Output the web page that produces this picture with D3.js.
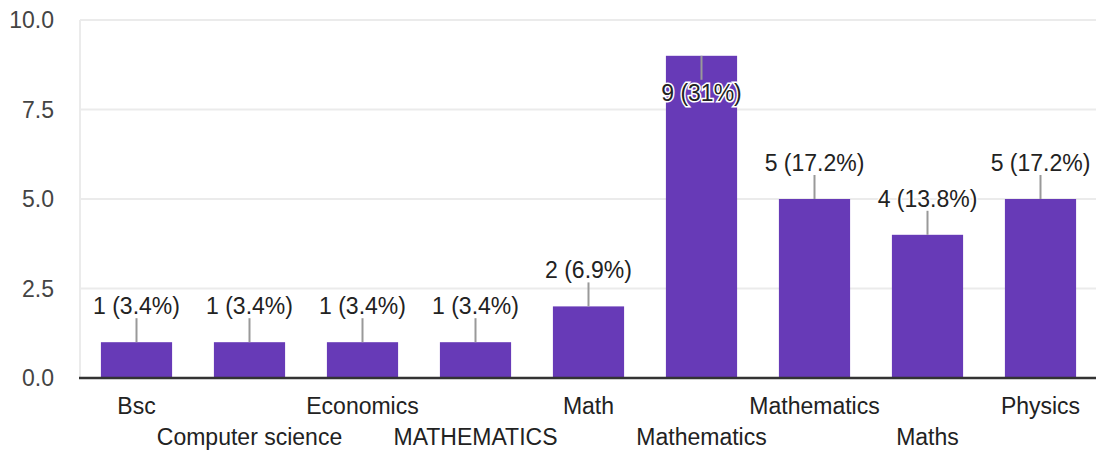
<!DOCTYPE html>
<html>
<head>
<meta charset="utf-8">
<script src="https://cdn.jsdelivr.net/npm/d3@7"></script>
<style>
  body { margin: 0; background: #fff; }
  text { font-family: "Liberation Sans", Arial, sans-serif; }
</style>
</head>
<body>
<div id="chart"></div>
<script>
var categories = ["Bsc", "Computer science", "Economics", "MATHEMATICS", "Math",
                  "Mathematics", "Mathematics ", "Maths", "Physics"];
var counts = [1, 1, 1, 1, 2, 9, 5, 4, 5];
var labels = ["1 (3.4%)", "1 (3.4%)", "1 (3.4%)", "1 (3.4%)", "2 (6.9%)",
              "9 (31%)", "5 (17.2%)", "4 (13.8%)", "5 (17.2%)"];
var yTicks = [0, 2.5, 5, 7.5, 10];

var margin = {top: 20, right: 0, bottom: 74, left: 80},
    width = 1096 - margin.left - margin.right,
    height = 452 - margin.top - margin.bottom;

var x = d3.scaleBand().domain(d3.range(categories.length))
    .range([0, 1017]).paddingInner(0.37).paddingOuter(0.185);
var y = d3.scaleLinear().domain([0, 10]).range([height, 0]);

var svg = d3.select("#chart").append("svg")
    .attr("width", 1096)
    .attr("height", 452)
  .append("g")
    .attr("transform", "translate(" + margin.left + "," + margin.top + ")");

// grid
svg.selectAll(".grid")
    .data(yTicks)
  .enter().append("line")
    .attr("x1", 0).attr("x2", width)
    .attr("y1", function(d) { return y(d); })
    .attr("y2", function(d) { return y(d); })
    .attr("stroke", "#ebebeb")
    .attr("stroke-width", 2);
svg.append("line")
    .attr("x1", 0).attr("x2", 0)
    .attr("y1", y(10)).attr("y2", y(0))
    .attr("stroke", "#ebebeb")
    .attr("stroke-width", 2);

// y labels
var fmt = d3.format(".1f");
svg.selectAll(".ylab")
    .data(yTicks)
  .enter().append("text")
    .attr("x", -26)
    .attr("y", function(d) { return y(d); })
    .attr("dy", "0.36em")
    .attr("text-anchor", "end")
    .attr("font-size", 23)
    .attr("fill", "#444")
    .text(function(d) { return fmt(d); });

// bars
svg.selectAll(".bar")
    .data(counts)
  .enter().append("rect")
    .attr("x", function(d, i) { return x(i); })
    .attr("y", function(d) { return y(d); })
    .attr("width", x.bandwidth())
    .attr("height", function(d) { return y(0) - y(d); })
    .attr("fill", "#673ab7");

// baseline
svg.append("line")
    .attr("x1", -1).attr("x2", width)
    .attr("y1", y(0)).attr("y2", y(0))
    .attr("stroke", "#333")
    .attr("stroke-width", 2.5);

// value labels with leader lines
var lead = 24;
counts.forEach(function(d, i) {
  var cx = x(i) + x.bandwidth() / 2;
  var top = y(d);
  var inside = top - lead - 28 < 0;
  var lineEnd = inside ? top + lead : top - lead;
  svg.append("line")
      .attr("x1", cx).attr("x2", cx)
      .attr("y1", top).attr("y2", lineEnd)
      .attr("stroke", "#999")
      .attr("stroke-width", 2);
  var ty = inside ? lineEnd + 21 : lineEnd - 4;
  svg.append("text")
      .attr("x", cx).attr("y", ty)
      .attr("text-anchor", "middle")
      .attr("font-size", 23)
      .attr("fill", "#222")
      .attr("stroke", "#fff")
      .attr("stroke-width", 3)
      .attr("paint-order", "stroke")
      .text(labels[i]);
});

// category labels in two rows
svg.selectAll(".xlab")
    .data(categories)
  .enter().append("text")
    .attr("x", function(d, i) { return x(i) + x.bandwidth() / 2; })
    .attr("y", function(d, i) { return height + (i % 2 === 0 ? 36 : 67); })
    .attr("text-anchor", "middle")
    .attr("font-size", 23)
    .attr("fill", "#222")
    .text(function(d) { return d.trim(); });
</script>
</body>
</html>
